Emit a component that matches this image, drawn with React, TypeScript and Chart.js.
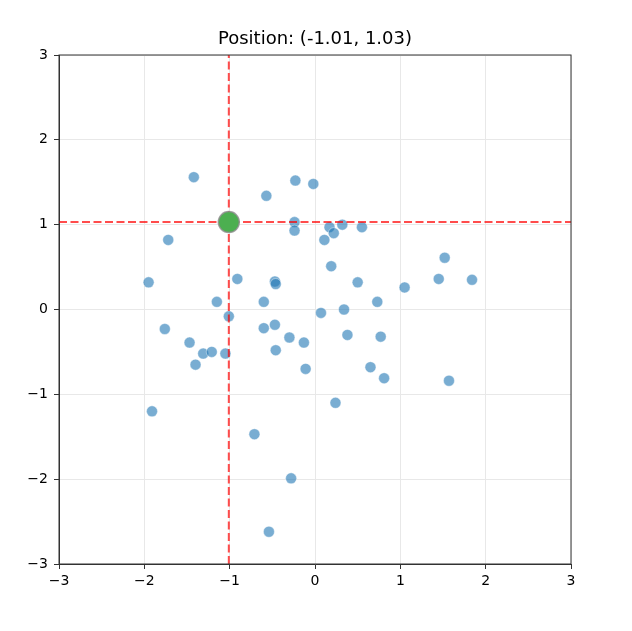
import { Chart, registerables } from "chart.js";
import { useEffect, useRef } from "react";

Chart.register(...registerables);

// scatter points
const xs = [
  -1.42, -0.57, -0.23, -0.02, -0.24, -0.24, -1.72, 0.17, 0.22, 0.32,
  0.11, 0.55, 0.19, -1.95, -0.91, -0.47, -0.46, 0.5, 1.05, 1.52,
  1.45, 1.84, -1.15, -0.6, -1.01, 0.07, 0.34, 0.73, -1.76, -0.6,
  -0.47, -0.3, -0.13, 0.38, 0.77, -1.47, -1.31, -1.21, -1.05, -1.4,
  -0.46, -0.11, 0.65, 0.81, 1.57, -1.91, 0.24, -0.71, -0.28, -0.54,
];
const ys = [
  1.56, 1.34, 1.52, 1.48, 1.03, 0.93, 0.82, 0.97, 0.9, 1.0,
  0.82, 0.97, 0.51, 0.32, 0.36, 0.33, 0.3, 0.32, 0.26, 0.61,
  0.36, 0.35, 0.09, 0.09, -0.08, -0.04, 0.0, 0.09, -0.23, -0.22,
  -0.18, -0.33, -0.39, -0.3, -0.32, -0.39, -0.52, -0.5, -0.52, -0.65,
  -0.48, -0.7, -0.68, -0.81, -0.84, -1.2, -1.1, -1.47, -1.99, -2.62,
];
const cursor = { x: -1.01, y: 1.03 };
const axisMin = -3;
const axisMax = 3;

const titlePlugin = {
  id: "titleAndFrame",
  afterDraw(chart: Chart) {
    const { ctx, chartArea } = chart;
    ctx.save();
    ctx.strokeStyle = "#333";
    ctx.lineWidth = 1;
    ctx.strokeRect(chartArea.left, chartArea.top, chartArea.right - chartArea.left, chartArea.bottom - chartArea.top);
    ctx.fillStyle = "#000";
    ctx.font = "18px 'DejaVu Sans'";
    ctx.textAlign = "center";
    ctx.textBaseline = "middle";
    ctx.fillText(
      `Position: (${cursor.x.toFixed(2)}, ${cursor.y.toFixed(2)})`,
      (chartArea.left + chartArea.right) / 2,
      39
    );
    ctx.restore();
  },
};

const fmt = (v: string | number) => String(v).replace("-", "\u2212");

export default function App() {
  const chartRef = useRef<HTMLCanvasElement | null>(null);

  useEffect(() => {
    if (!chartRef.current) return;
    Chart.defaults.font.family = "'DejaVu Sans'";
    const chartInstance = new Chart(chartRef.current, {
      type: "scatter",
      data: {
        datasets: [
          {
            data: xs.map((x, i) => ({ x, y: ys[i] })),
            backgroundColor: "rgba(31, 119, 180, 0.6)",
            borderColor: "rgba(255, 255, 255, 0.4)",
            borderWidth: 1,
            pointRadius: 5.5,
            order: 3,
          },
          {
            type: "line",
            data: [
              { x: cursor.x, y: axisMin },
              { x: cursor.x, y: axisMax },
            ],
            borderColor: "rgba(255, 0, 0, 0.7)",
            borderWidth: 2,
            borderDash: [8, 3.5],
            pointRadius: 0,
            order: 2,
          },
          {
            type: "line",
            data: [
              { x: axisMin, y: cursor.y },
              { x: axisMax, y: cursor.y },
            ],
            borderColor: "rgba(255, 0, 0, 0.7)",
            borderWidth: 2,
            borderDash: [8, 3.5],
            pointRadius: 0,
            order: 2,
          },
          {
            data: [cursor],
            backgroundColor: "rgb(76, 175, 80)",
            borderColor: "rgba(140, 140, 140, 0.8)",
            borderWidth: 1.5,
            pointRadius: 10.5,
            order: 1,
          },
        ],
      },
      options: {
        animation: false,
        responsive: false,
        devicePixelRatio: 1,
        layout: {
          padding: { top: 55, left: 14, right: 61, bottom: 27 },
        },
        plugins: {
          legend: { display: false },
          tooltip: { enabled: false },
        },
        scales: {
          x: {
            type: "linear",
            min: axisMin,
            max: axisMax,
            afterFit: (scale) => {
              scale.height = 40;
            },
            ticks: {
              stepSize: 1,
              color: "#000",
              font: { size: 14 },
              padding: 4,
              callback: (v) => fmt(v),
            },
            grid: {
              color: "#e8e8e8",
              tickColor: "#333",
              tickLength: 5,
            },
            border: { color: "#333" },
          },
          y: {
            type: "linear",
            min: axisMin,
            max: axisMax,
            afterFit: (scale) => {
              scale.width = 45;
            },
            ticks: {
              stepSize: 1,
              color: "#000",
              font: { size: 14 },
              padding: 6,
              callback: (v) => fmt(v),
            },
            grid: {
              color: "#e8e8e8",
              tickColor: "#333",
              tickLength: 5,
            },
            border: { color: "#333" },
          },
        },
      },
      plugins: [titlePlugin],
    });
    return () => {
      chartInstance.destroy();
    };
  }, []);

  return (
    <div style={{ position: "absolute", left: 0, top: 0, width: 632, height: 631, background: "#fff" }}>
      <canvas ref={chartRef} width={632} height={631} />
    </div>
  );
}
